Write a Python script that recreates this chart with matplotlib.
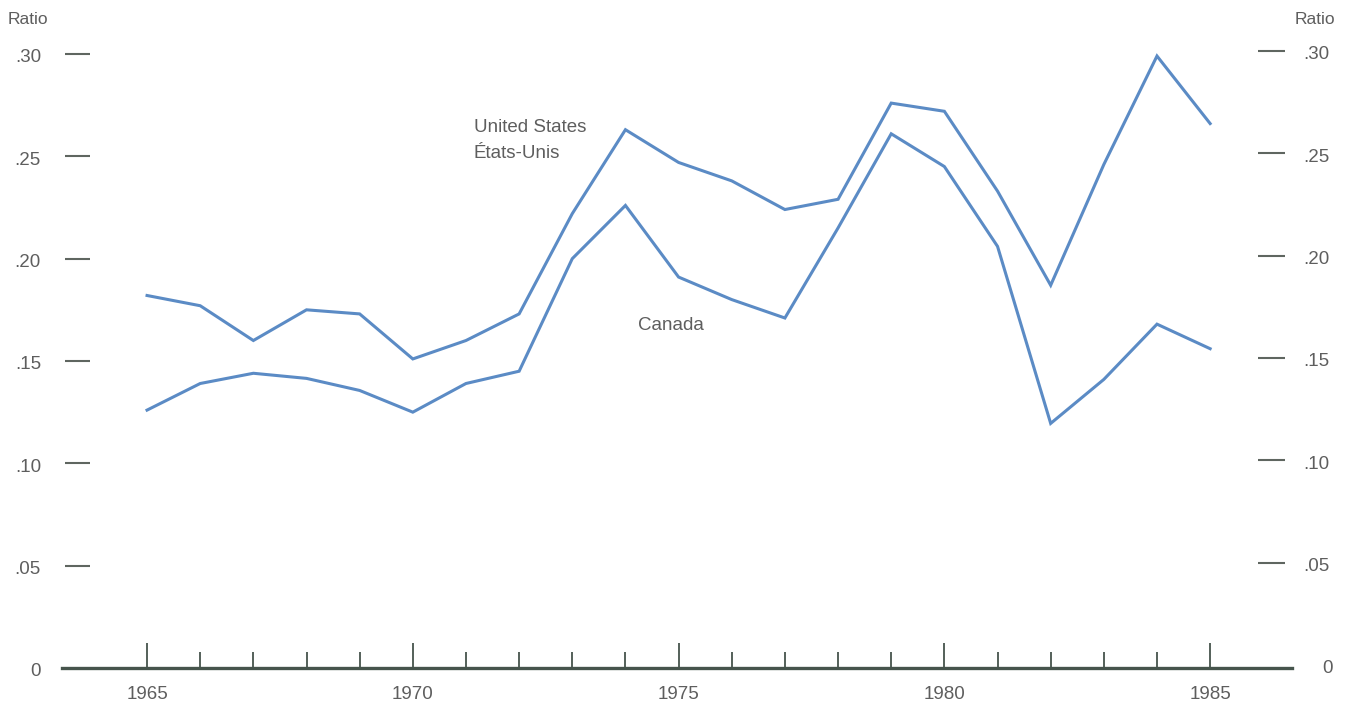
import matplotlib
matplotlib.use("Agg")
import matplotlib.pyplot as plt
import matplotlib.transforms as mtransforms

plt.rcParams["font.family"] = ["Liberation Sans", "DejaVu Sans"]

years = list(range(1965, 1986))
united_states = [0.182, 0.177, 0.160, 0.175, 0.173, 0.151, 0.160, 0.173, 0.222, 0.263,
                 0.247, 0.238, 0.224, 0.229, 0.276, 0.272, 0.233, 0.187, 0.246, 0.299, 0.266]
canada = [0.126, 0.139, 0.144, 0.1415, 0.1356, 0.125, 0.139, 0.145, 0.200, 0.226,
          0.191, 0.180, 0.171, 0.215, 0.261, 0.245, 0.206, 0.1195, 0.141, 0.168, 0.156]
y_ticks = [0.05, 0.10, 0.15, 0.20, 0.25, 0.30]
y_tick_labels = [".05", ".10", ".15", ".20", ".25", ".30"]
x_major = [1965, 1970, 1975, 1980, 1985]

W, H = 1351, 708
fig = plt.figure(figsize=(W / 100, H / 100), dpi=100)
left_px, right_px, bottom_px, top_px = 62, 1292, 668, 20
ax = fig.add_axes([left_px / W, 1 - bottom_px / H, (right_px - left_px) / W, (bottom_px - top_px) / H])

ax.set_xlim(1963.40, 1986.54)
ax.set_ylim(0, 0.3166)

line_color = "#5b8bc5"
axis_color = "#46544c"
dash_color = "#5f6660"
text_color = "#5e5e5e"
fs = 13.5
dy = -0.0019  # small downward shift of labels to match reference text placement

ax.plot(years, united_states, color=line_color, lw=2.2, solid_joinstyle="miter")
ax.plot(years, canada, color=line_color, lw=2.2, solid_joinstyle="miter")

for s in ["left", "right", "top"]:
    ax.spines[s].set_visible(False)
ax.spines["bottom"].set_color(axis_color)
ax.spines["bottom"].set_linewidth(2.4)

ax.set_xticks(x_major)
ax.set_xticklabels([str(y) for y in x_major])
ax.set_xticks(years, minor=True)
ax.tick_params(axis="x", which="major", direction="in", length=18, width=1.3,
               color=axis_color, labelsize=fs, labelcolor=text_color, pad=13)
ax.tick_params(axis="x", which="minor", direction="in", length=11.5, width=1.3, color=axis_color)
ax.set_yticks([])

trans = mtransforms.blended_transform_factory(ax.transAxes, ax.transData)
span = right_px - left_px
lx0 = (65 - left_px) / span
lx1 = (90 - left_px) / span
rx0 = (1258 - left_px) / span
rx1 = (1285 - left_px) / span
ax.hlines(y_ticks, lx0, lx1, transform=trans, color=dash_color, lw=1.5, clip_on=False)
ax.hlines([v + 0.0015 for v in y_ticks], rx0, rx1, transform=trans, color=dash_color, lw=1.5, clip_on=False)

lab_left = (41 - left_px) / span
lab_right = (1303 - left_px) / span
for v, t in zip(y_ticks, y_tick_labels):
    ax.text(lab_left, v + dy, t, transform=trans, ha="right", va="center", fontsize=fs, color=text_color)
    ax.text(lab_right, v + 0.0015 + dy, t, transform=trans, ha="left", va="center", fontsize=fs, color=text_color)
ax.text((41 - left_px) / span, dy, "0", transform=trans, ha="right", va="center", fontsize=fs, color=text_color)
ax.text((1322 - left_px) / span, 0.0015 + dy, "0", transform=trans, ha="left", va="center", fontsize=fs, color=text_color)

fig.text(8 / W, 1 - 20 / H, "Ratio", ha="left", va="center", fontsize=12.5, color=text_color)
fig.text(1335 / W, 1 - 20 / H, "Ratio", ha="right", va="center", fontsize=12.5, color=text_color)

ax.text(1971.15, 0.2658 + dy, "United States", ha="left", va="center", fontsize=fs, color=text_color)
ax.text(1971.15, 0.2531 + dy, "États-Unis", ha="left", va="center", fontsize=fs, color=text_color)
ax.text(1974.24, 0.169 + dy, "Canada", ha="left", va="center", fontsize=fs, color=text_color)

fig.savefig("out.png", dpi=100, facecolor="white")
